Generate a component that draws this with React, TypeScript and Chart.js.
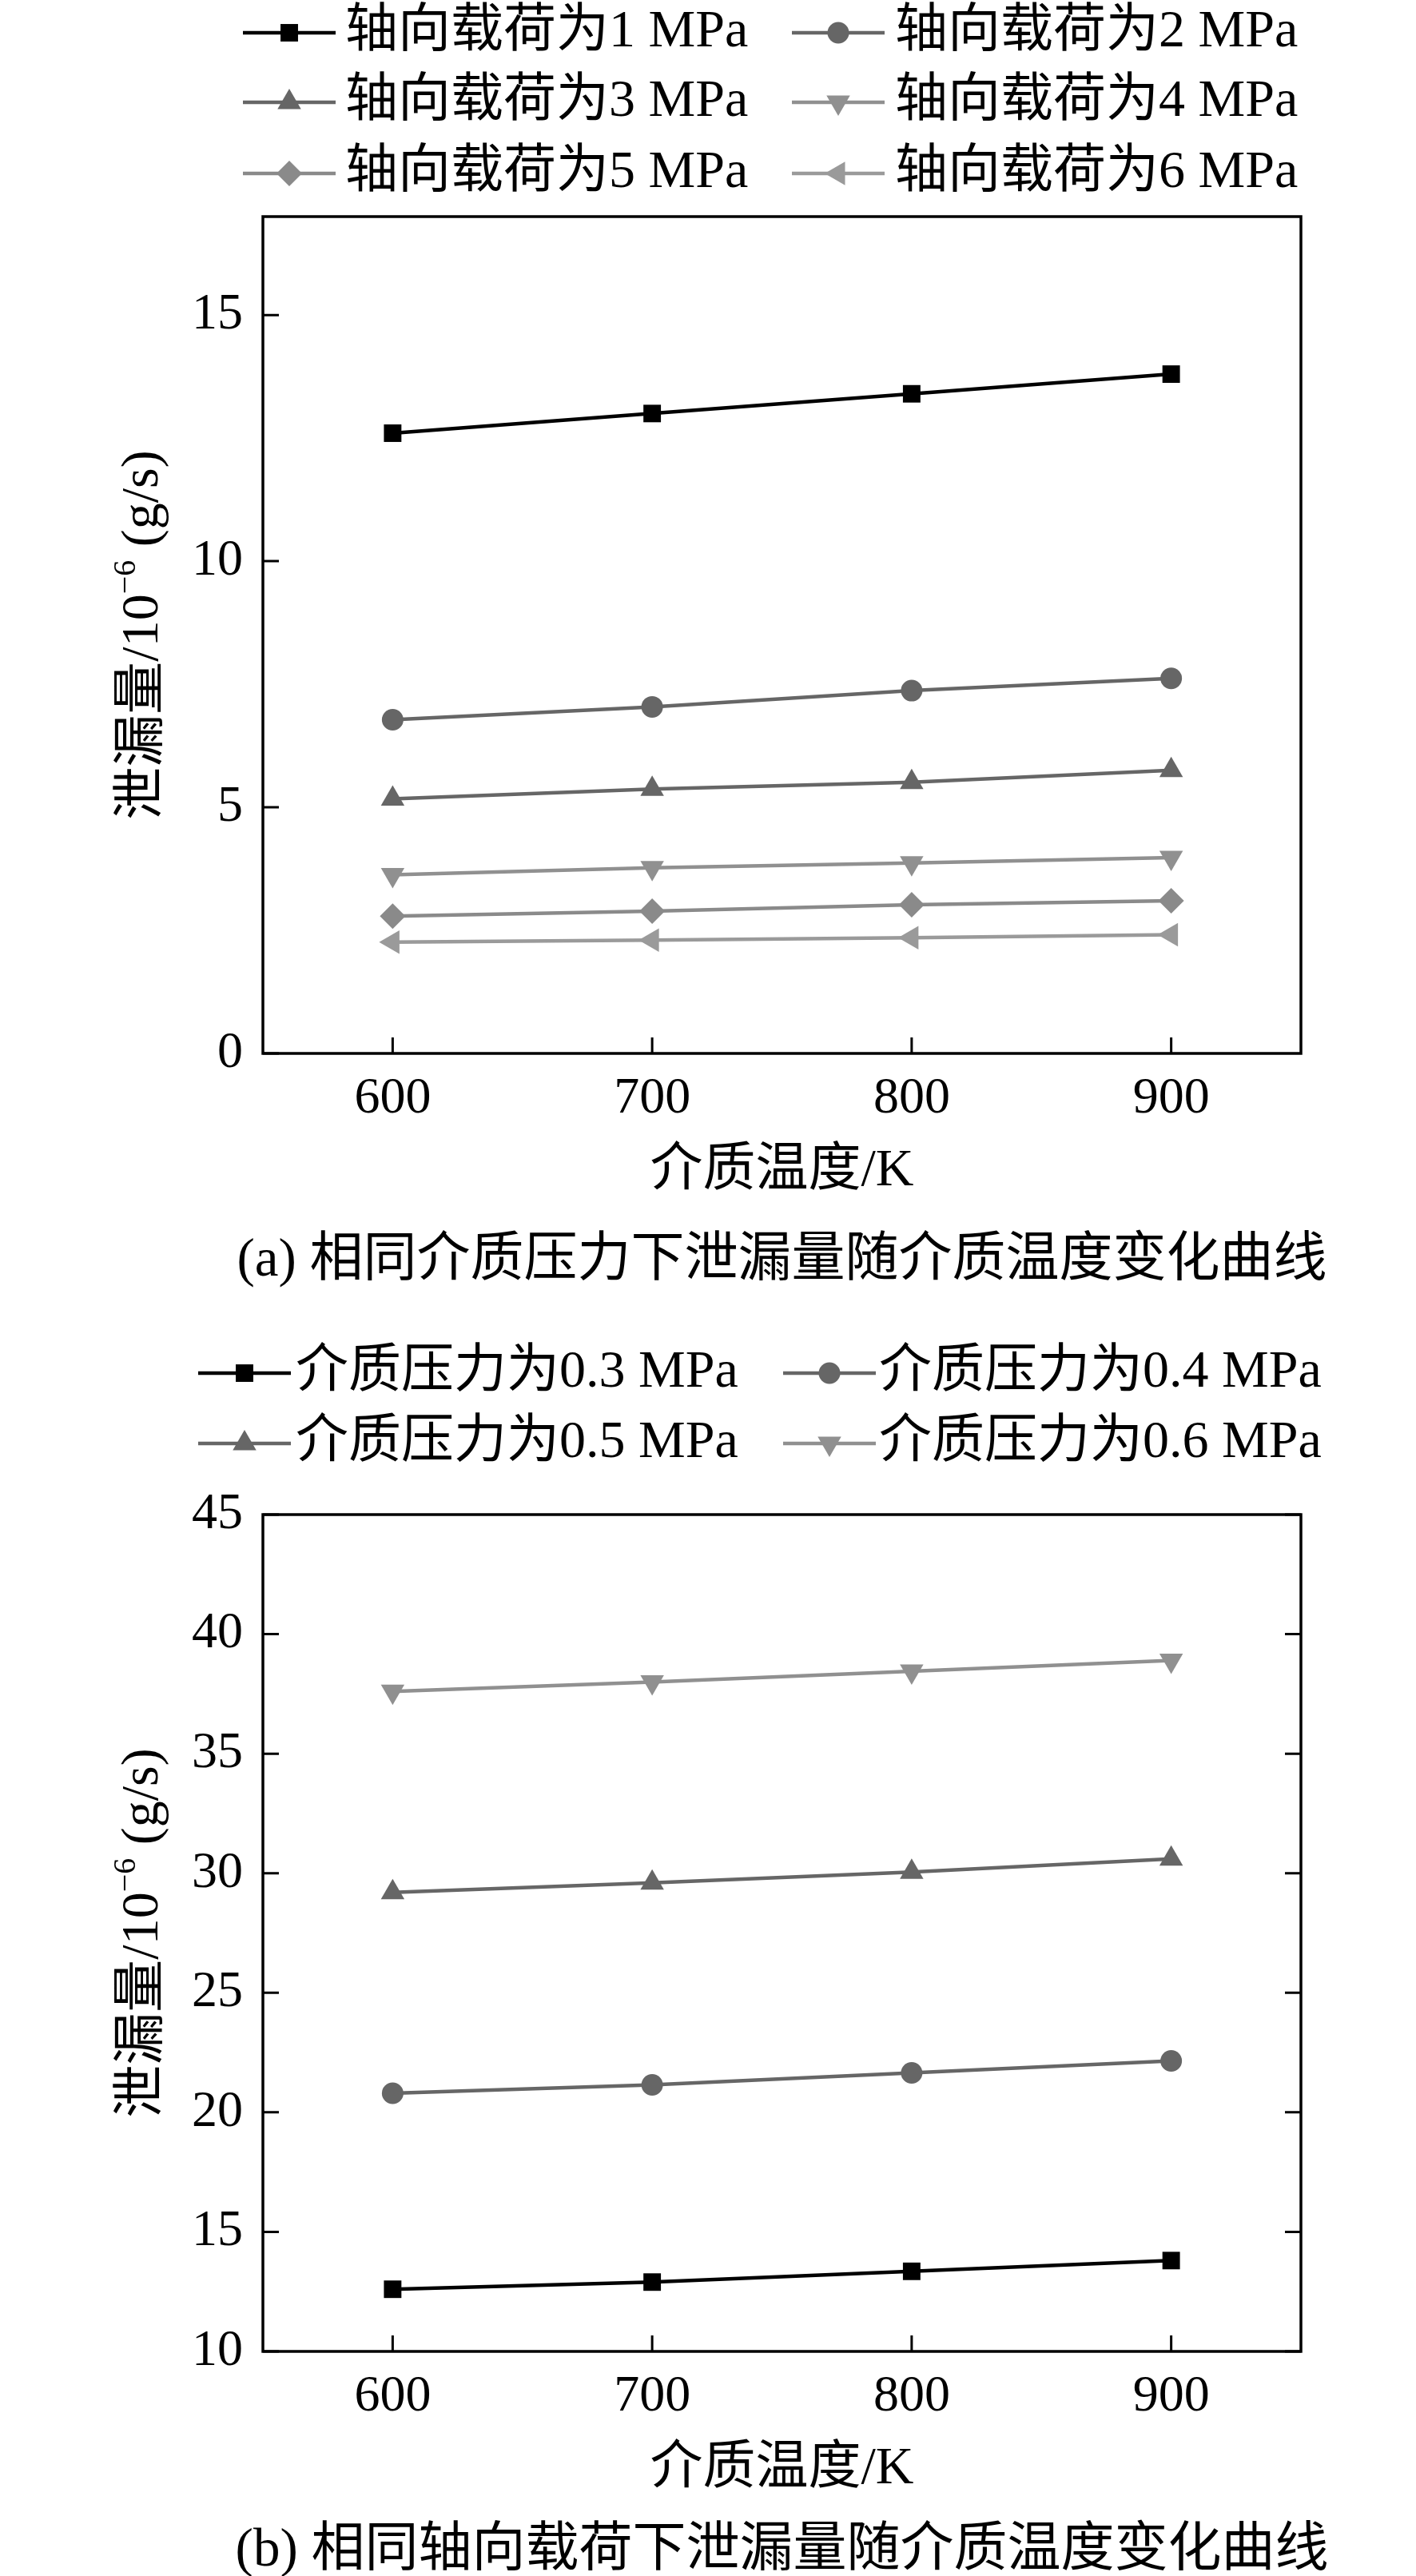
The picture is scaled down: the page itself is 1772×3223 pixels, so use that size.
import { useEffect, useRef } from 'react';
import { Chart, registerables } from 'chart.js';
import type { ChartConfiguration, Plugin } from 'chart.js';
import { drawPoint } from 'chart.js/helpers';

Chart.register(...registerables);

// shared x axis
const temps = [600, 700, 800, 900];
const xTicks = [600, 700, 800, 900];

// (a) same medium pressure, different axial load
const loadLabels = [
  '轴向载荷为1 MPa',
  '轴向载荷为2 MPa',
  '轴向载荷为3 MPa',
  '轴向载荷为4 MPa',
  '轴向载荷为5 MPa',
  '轴向载荷为6 MPa',
];
const load1 = [12.6, 13.0, 13.4, 13.8];
const load2 = [6.78, 7.04, 7.37, 7.62];
const load3 = [5.17, 5.37, 5.51, 5.75];
const load4 = [3.63, 3.77, 3.87, 3.98];
const load5 = [2.79, 2.89, 3.02, 3.1];
const load6 = [2.26, 2.3, 2.35, 2.41];
const yTicksA = [0, 5, 10, 15];

// (b) same axial load, different medium pressure
const pressureLabels = [
  '介质压力为0.3 MPa',
  '介质压力为0.4 MPa',
  '介质压力为0.5 MPa',
  '介质压力为0.6 MPa',
];
const press03 = [12.6, 12.9, 13.35, 13.8];
const press04 = [20.8, 21.15, 21.65, 22.15];
const press05 = [29.2, 29.6, 30.05, 30.6];
const press06 = [37.6, 38.0, 38.45, 38.9];
const yTicksB = [10, 15, 20, 25, 30, 35, 40, 45];

const FONT = "'Liberation Serif', 'Noto Sans CJK SC', serif";

type Marker = { color: string; pointStyle: string; radius: number; rotation: number };

const markers: Marker[] = [
  { color: '#000000', pointStyle: 'rect', radius: 15.5, rotation: 0 },
  { color: '#666666', pointStyle: 'circle', radius: 13.5, rotation: 0 },
  { color: '#666666', pointStyle: 'triangle', radius: 17, rotation: 0 },
  { color: '#909090', pointStyle: 'triangle', radius: 17, rotation: 180 },
  { color: '#8a8a8a', pointStyle: 'rectRot', radius: 16, rotation: 0 },
  { color: '#9a9a9a', pointStyle: 'triangle', radius: 17, rotation: 270 },
];

type Spec = {
  height: number;
  labels: string[];
  values: number[][];
  yMin: number;
  yMax: number;
  yTicks: number[];
  plotTop: number;
  plotBottom: number;
  mirrorY: boolean;
  legendMarkX: number[];
  legendTextX: number[];
  legendY: number[];
  xTitleY: number;
  captionY: number;
  caption: string;
};

const panelA: Spec = {
  height: 1640,
  labels: loadLabels,
  values: [load1, load2, load3, load4, load5, load6],
  yMin: 0,
  yMax: 17,
  yTicks: yTicksA,
  plotTop: 271,
  plotBottom: 1318,
  mirrorY: false,
  legendMarkX: [362, 1049],
  legendTextX: [432, 1120],
  legendY: [41, 128, 217],
  xTitleY: 1466,
  captionY: 1578,
  caption: '(a) 相同介质压力下泄漏量随介质温度变化曲线',
};

const panelB: Spec = {
  height: 1583,
  labels: pressureLabels,
  values: [press03, press04, press05, press06],
  yMin: 10,
  yMax: 45,
  yTicks: yTicksB,
  plotTop: 255,
  plotBottom: 1302,
  mirrorY: true,
  legendMarkX: [306, 1038],
  legendTextX: [370, 1100],
  legendY: [78, 166],
  xTitleY: 1450,
  captionY: 1552,
  caption: '(b) 相同轴向载荷下泄漏量随介质温度变化曲线',
};

function decorPlugin(spec: Spec): Plugin<'line'> {
  return {
    id: 'decor',
    afterDraw(chart) {
      const { ctx, chartArea: a, scales } = chart;
      ctx.save();

      // frame
      ctx.strokeStyle = '#000';
      ctx.lineWidth = 3.5;
      ctx.strokeRect(a.left, a.top, a.right - a.left, a.bottom - a.top);

      // inward ticks
      ctx.lineWidth = 3;
      ctx.beginPath();
      xTicks.forEach((v) => {
        const px = scales.x.getPixelForValue(v);
        ctx.moveTo(px, a.bottom);
        ctx.lineTo(px, a.bottom - 20);
      });
      spec.yTicks.forEach((v) => {
        const py = scales.y.getPixelForValue(v);
        ctx.moveTo(a.left, py);
        ctx.lineTo(a.left + 20, py);
        if (spec.mirrorY) {
          ctx.moveTo(a.right, py);
          ctx.lineTo(a.right - 20, py);
        }
      });
      ctx.stroke();

      // legend, two columns
      spec.labels.forEach((label, i) => {
        const m = markers[i];
        const cx = spec.legendMarkX[i % 2];
        const cy = spec.legendY[Math.floor(i / 2)];
        ctx.strokeStyle = m.color;
        ctx.lineWidth = 4.5;
        ctx.beginPath();
        ctx.moveTo(cx - 58, cy);
        ctx.lineTo(cx + 58, cy);
        ctx.stroke();
        ctx.fillStyle = m.color;
        drawPoint(ctx, { pointStyle: m.pointStyle as any, radius: m.radius, rotation: m.rotation, borderWidth: 0 }, cx, cy);
        ctx.fillStyle = '#000';
        ctx.font = `66px ${FONT}`;
        ctx.textAlign = 'left';
        ctx.textBaseline = 'middle';
        ctx.fillText(label, spec.legendTextX[i % 2], cy);
      });

      const midX = (a.left + a.right) / 2;
      ctx.fillStyle = '#000';
      ctx.textAlign = 'center';
      ctx.textBaseline = 'middle';
      ctx.font = `66px ${FONT}`;
      ctx.fillText('介质温度/K', midX, spec.xTitleY);
      ctx.font = `67px ${FONT}`;
      ctx.fillText(spec.caption, midX, spec.captionY);

      // rotated y title with superscript
      const parts = [
        { t: '泄漏量/10', size: 66, dy: 0 },
        { t: '−6', size: 40, dy: -28 },
        { t: ' (g/s)', size: 66, dy: 0 },
      ];
      let total = 0;
      const widths = parts.map((p) => {
        ctx.font = `${p.size}px ${FONT}`;
        const w = ctx.measureText(p.t).width;
        total += w;
        return w;
      });
      ctx.translate(174, (a.top + a.bottom) / 2);
      ctx.rotate(-Math.PI / 2);
      ctx.textAlign = 'left';
      ctx.textBaseline = 'alphabetic';
      let x = -total / 2;
      parts.forEach((p, i) => {
        ctx.font = `${p.size}px ${FONT}`;
        ctx.fillText(p.t, x, 23 + p.dy);
        x += widths[i];
      });

      ctx.restore();
    },
  };
}

function buildConfig(spec: Spec): ChartConfiguration<'line'> {
  const tickFont = { family: FONT, size: 64 };
  return {
    type: 'line',
    data: {
      datasets: spec.values.map((vals, i) => {
        const m = markers[i];
        return {
          label: spec.labels[i],
          data: temps.map((t, j) => ({ x: t, y: vals[j] })),
          borderColor: m.color,
          backgroundColor: m.color,
          borderWidth: 4.5,
          pointStyle: m.pointStyle as any,
          pointRadius: m.radius,
          pointRotation: m.rotation,
          pointBorderWidth: 0,
          pointBackgroundColor: m.color,
          tension: 0,
          fill: false,
        };
      }),
    },
    options: {
      responsive: false,
      animation: false,
      devicePixelRatio: 1,
      layout: {
        padding: { top: spec.plotTop, left: 0, right: 144, bottom: spec.height - spec.plotBottom - 100 },
      },
      plugins: { legend: { display: false }, tooltip: { enabled: false } },
      scales: {
        x: {
          type: 'linear',
          min: 550,
          max: 950,
          afterBuildTicks: (s) => {
            s.ticks = xTicks.map((v) => ({ value: v }));
          },
          afterFit: (s) => {
            s.height = 100;
          },
          grid: { display: false, drawTicks: false },
          border: { display: false },
          ticks: { autoSkip: false, padding: 19, color: '#000', font: tickFont, callback: (v) => String(v) },
        },
        y: {
          type: 'linear',
          min: spec.yMin,
          max: spec.yMax,
          afterBuildTicks: (s) => {
            s.ticks = spec.yTicks.map((v) => ({ value: v }));
          },
          afterFit: (s) => {
            s.width = 329;
          },
          grid: { display: false, drawTicks: false },
          border: { display: false },
          ticks: { autoSkip: false, padding: 25, color: '#000', font: tickFont, callback: (v) => String(v) },
        },
      },
    },
    plugins: [decorPlugin(spec)],
  };
}

function Panel({ spec, top }: { spec: Spec; top: number }) {
  const canvasRef = useRef<HTMLCanvasElement>(null);

  useEffect(() => {
    if (!canvasRef.current) return;
    const chart = new Chart(canvasRef.current, buildConfig(spec));
    return () => {
      chart.destroy();
    };
  }, [spec]);

  return (
    <canvas
      ref={canvasRef}
      width={1772}
      height={spec.height}
      style={{ position: 'absolute', left: 0, top, width: 1772, height: spec.height }}
    />
  );
}

export default function App() {
  return (
    <div style={{ position: 'absolute', left: 0, top: 0, width: 1772, height: 3223, background: '#fff' }}>
      <Panel spec={panelA} top={0} />
      <Panel spec={panelB} top={1640} />
    </div>
  );
}
